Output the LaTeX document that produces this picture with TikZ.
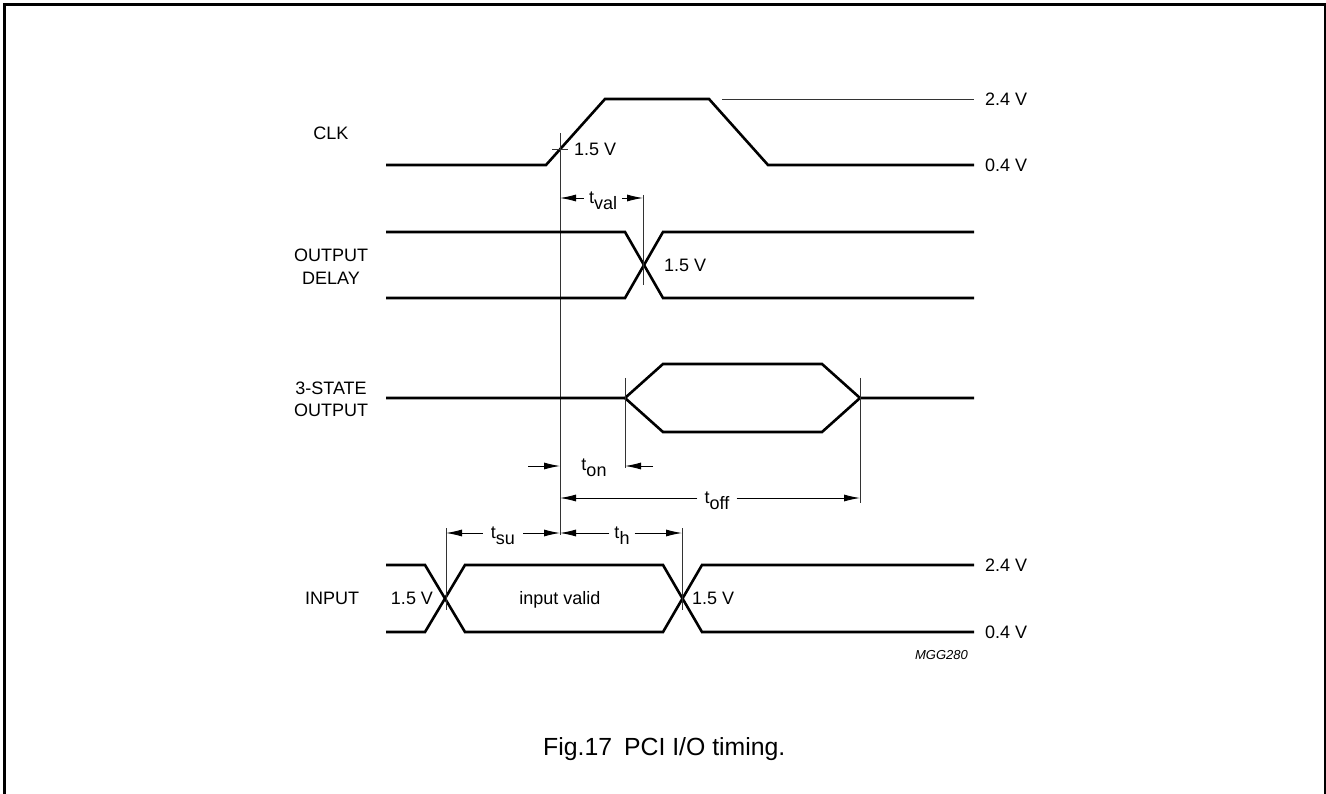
\documentclass[tikz,border=0pt]{standalone}
\usepackage{fontspec}
\setmainfont{Liberation Sans}
\usetikzlibrary{arrows.meta}
\begin{document}
\begin{tikzpicture}[x=1pt,y=-1pt,
  sig/.style={line width=2.6pt, line join=miter},
  thinl/.style={line width=0.9pt, black!80},
  dim/.style={line width=0.9pt, -{Latex[length=16pt,width=7pt]}},
  lbl/.style={font=\fontsize{18}{23}\selectfont, inner sep=0pt, text height=12.9pt, text depth=0pt},
  tlab/.style={font=\fontsize{18}{23}\selectfont, inner xsep=5pt, inner ysep=0pt, text height=11.5pt, text depth=0pt},
]
\newcommand{\tsub}[1]{t\smash{\raisebox{-0.6ex}{#1}}}
\useasboundingbox (0,0) rectangle (1326,794);
\draw[line width=2.2pt] (4.5,794) -- (4.5,4.5) -- (1325,4.5) -- (1325,794);

% ---- signal names
\node[lbl] (nclk) at (331,133) {CLK};
\node[lbl] (nout1) at (331,255) {OUTPUT};
\node[lbl] (nout2) at (331,278) {DELAY};
\node[lbl] (nts1) at (331,388) {3-STATE};
\node[lbl] (nts2) at (331,410) {OUTPUT};
\node[lbl] (nin) at (332,598) {INPUT};

% ---- CLK
\draw[sig] (386,165) -- (546,165) -- (605,99) -- (709,99) -- (768,165) -- (974,165);
\draw[thinl] (722,99) -- (974,99);
\node[lbl, anchor=west] (v24a) at (985,99) {2.4 V};
\node[lbl, anchor=west] (v04a) at (985,165) {0.4 V};
\coordinate (reftop) at (560,133);
\coordinate (refbot) at (560,535);
\draw[thinl] (reftop) -- (refbot);
\draw[thinl] (552,149) -- (568,149);
\node[lbl, anchor=west] (vclk) at (574,149) {1.5 V};

% ---- OUTPUT DELAY
\draw[sig] (386,232) -- (625,232) -- (663,298) -- (974,298);
\draw[sig] (386,298) -- (625,298) -- (663,232) -- (974,232);
\coordinate (valtop) at (643,195);
\coordinate (valbot) at (643,285);
\draw[thinl] (valtop) -- (valbot);
\node[lbl, anchor=west] (vout) at (664,265) {1.5 V};
\node[tlab] (tval) at (603,198) {\tsub{val}};
\coordinate (valL) at (560,198);
\coordinate (valR) at (643,198);
\draw[dim] (tval.west) -- (valL);
\draw[dim] (tval.east) -- (valR);

% ---- 3-STATE OUTPUT
\draw[sig] (386,398) -- (625,398) -- (663,364) -- (822,364) -- (860,398) -- (974,398);
\draw[sig] (625,398) -- (663,432) -- (822,432) -- (860,398);
\coordinate (ontop) at (625,378);
\coordinate (onbot) at (625,468);
\coordinate (offtop) at (860,378);
\coordinate (offbot) at (860,503);
\draw[thinl] (ontop) -- (onbot);
\draw[thinl] (offtop) -- (offbot);
\node[tlab] (ton) at (594,465) {\tsub{on}};
\coordinate (onA) at (528,466);
\coordinate (onB) at (560,466);
\coordinate (onC) at (653,466);
\coordinate (onD) at (625,466);
\draw[dim] (onA) -- (onB);
\draw[dim] (onC) -- (onD);
\node[tlab, inner xsep=7pt] (toff) at (717,498) {\tsub{off}};
\coordinate (offL) at (560,498);
\coordinate (offR) at (860,498);
\draw[dim] (toff.west) -- (offL);
\draw[dim] (toff.east) -- (offR);

% ---- INPUT
\draw[sig] (386,565) -- (425,565) -- (465,632) -- (663,632) -- (702,565) -- (974,565);
\draw[sig] (386,632) -- (425,632) -- (465,565) -- (663,565) -- (702,632) -- (974,632);
\coordinate (sutop) at (446,528);
\coordinate (subot) at (446,610);
\coordinate (htop) at (682,528);
\coordinate (hbot) at (682,610);
\draw[thinl] (sutop) -- (subot);
\draw[thinl] (htop) -- (hbot);
\node[tlab, inner xsep=8pt] (tsu) at (503,533) {\tsub{su}};
\coordinate (suL) at (446,533);
\coordinate (suR) at (560,533);
\draw[dim] (tsu.west) -- (suL);
\draw[dim] (tsu.east) -- (suR);
\node[tlab] (th) at (622,533) {\tsub{h}};
\coordinate (hL) at (560,533);
\coordinate (hR) at (682,533);
\draw[dim] (th.west) -- (hL);
\draw[dim] (th.east) -- (hR);
\node[lbl] (vin1) at (412,598) {1.5 V};
\node[lbl] (valid) at (560,598) {input valid};
\node[lbl, anchor=west] (vin2) at (692,598) {1.5 V};
\node[lbl, anchor=west] (v24b) at (985,565) {2.4 V};
\node[lbl, anchor=west] (v04b) at (985,632) {0.4 V};
\node[font=\fontsize{13}{15}\selectfont\itshape, inner sep=0pt, anchor=east] (code) at (968,655) {MGG280};

% ---- caption
\node[font=\fontsize{24.8}{28}\selectfont, inner sep=0pt, anchor=west, text height=17.8pt, text depth=0pt] (cap) at (543,747) {Fig.17\hspace{12pt}PCI I/O timing.};
\end{tikzpicture}
\end{document}
